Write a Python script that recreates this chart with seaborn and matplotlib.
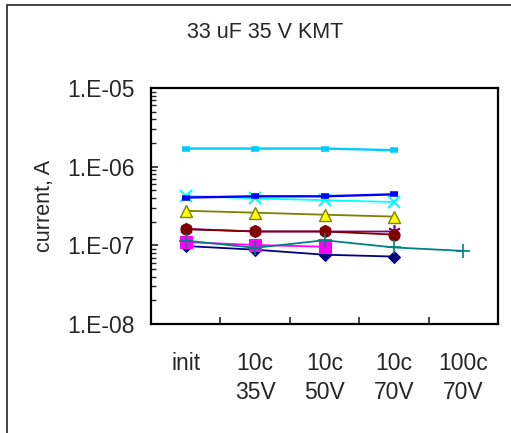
import numpy as np
import matplotlib
matplotlib.use("Agg")
import matplotlib.pyplot as plt
import matplotlib.ticker as mticker
from matplotlib.patches import Rectangle
import seaborn as sns

nan = np.nan
categories = ["init", "10c\n35V", "10c\n50V", "10c\n70V", "100c\n70V"]
ytick_values = [1e-8, 1e-7, 1e-6, 1e-5]
ytick_labels = ["1.E-08", "1.E-07", "1.E-06", "1.E-05"]

navy_diamond = [9.8e-8, 8.8e-8, 7.6e-8, 7.2e-8, nan]
magenta_square = [1.1e-7, 1.01e-7, 9.6e-8, nan, nan]
olive_triangle = [2.75e-7, 2.6e-7, 2.45e-7, 2.32e-7, nan]
cyan_x = [4.25e-7, 3.95e-7, 3.75e-7, 3.55e-7, nan]
purple_star = [1.62e-7, 1.5e-7, 1.5e-7, 1.5e-7, nan]
darkred_circle = [1.6e-7, 1.5e-7, 1.5e-7, 1.37e-7, nan]
teal_plus = [1.15e-7, 9.3e-8, 1.16e-7, 9.4e-8, 8.5e-8]
blue_dash = [4.05e-7, 4.2e-7, 4.2e-7, 4.45e-7, nan]
sky_dash = [1.7e-6, 1.7e-6, 1.7e-6, 1.62e-6, nan]

sns.set_style("white")
plt.rcParams['font.family'] = ['Liberation Sans', 'DejaVu Sans']

fig = plt.figure(figsize=(5.11, 4.33), dpi=100)
ax = fig.add_axes([151/511, 1-324/433, (498-151)/511, (324-88)/433])

xpos = list(range(len(categories)))

styles = [
    (navy_diamond, dict(color="#000080", marker="D", markersize=6, mfc="#000080", mec="#000080", lw=1.3)),
    (magenta_square, dict(color="#FF00FF", marker="s", markersize=8, mfc="#FF00FF", mec="#FF00FF", lw=1.3)),
    (olive_triangle, dict(color="#808000", marker="^", markersize=9, mfc="#FFFF00", mec="#808000", mew=1.0, lw=1.3)),
    (cyan_x, dict(color="#00FFFF", marker="x", markersize=9, mfc="#00FFFF", mec="#00FFFF", mew=1.5, lw=1.3)),
    (purple_star, dict(color="#800080", marker=(6, 2, 0), markersize=9, mfc="#800080", mec="#800080", mew=1.2, lw=1.3)),
    (darkred_circle, dict(color="#800000", marker="o", markersize=8, mfc="#800000", mec="#800000", lw=1.3)),
    (teal_plus, dict(color="#008080", marker="+", markersize=10, mfc="#008080", mec="#008080", mew=1.2, lw=1.3)),
    (blue_dash, dict(color="#0000FF", marker="_", markersize=6, mfc="#0000FF", mec="#0000FF", mew=4, lw=1.7)),
    (sky_dash, dict(color="#00CCFF", marker="_", markersize=6, mfc="#00CCFF", mec="#00CCFF", mew=4, lw=1.7)),
]

for vals, kw in styles:
    arr = np.array(vals, dtype=float)
    m = ~np.isnan(arr)
    sns.lineplot(x=np.array(xpos)[m], y=arr[m], ax=ax, estimator=None,
                 errorbar=None, **kw)

ax.set_yscale("log")
ax.set_ylim(1e-8, 1e-5)
ax.set_xlim(-0.5, len(categories) - 0.5)

ax.yaxis.set_major_locator(mticker.FixedLocator(ytick_values))
ax.yaxis.set_major_formatter(mticker.FixedFormatter(ytick_labels))
ax.yaxis.set_minor_locator(mticker.LogLocator(base=10, subs=np.arange(2, 10)))
ax.yaxis.set_minor_formatter(mticker.NullFormatter())
ax.tick_params(axis="y", which="major", direction="in", length=5, width=1.2,
               labelsize=16.5, pad=12, left=True)
ax.tick_params(axis="y", which="minor", direction="in", length=3.5, width=1.0, left=True)

ax.set_xticks([i + 0.5 for i in xpos[:-1]])
ax.set_xticklabels([])
ax.set_xticks(xpos, minor=True)
ax.set_xticklabels(categories, minor=True)
ax.tick_params(axis="x", which="major", direction="in", length=5, width=1.2, bottom=True)
ax.tick_params(axis="x", which="minor", length=0, labelsize=16.5, pad=20)
for lab in ax.get_xticklabels(minor=True):
    lab.set_linespacing(1.35)

for s in ax.spines.values():
    s.set_color("black")
    s.set_linewidth(1.6)

ax.set_ylabel("current, A", fontsize=15.5)
ax.yaxis.set_label_coords((55 - 151) / (498 - 151), 0.5)

fig.text(265/511, 1 - 33/433, "33 uF 35 V KMT", ha="center", va="center", fontsize=15.5)

fig.patches.append(Rectangle((7/511, -0.1), 1.2, 1 - 5/433 + 0.1, transform=fig.transFigure,
                             fill=False, edgecolor="#222222", linewidth=1.2))

fig.savefig("out.png", dpi=100)
